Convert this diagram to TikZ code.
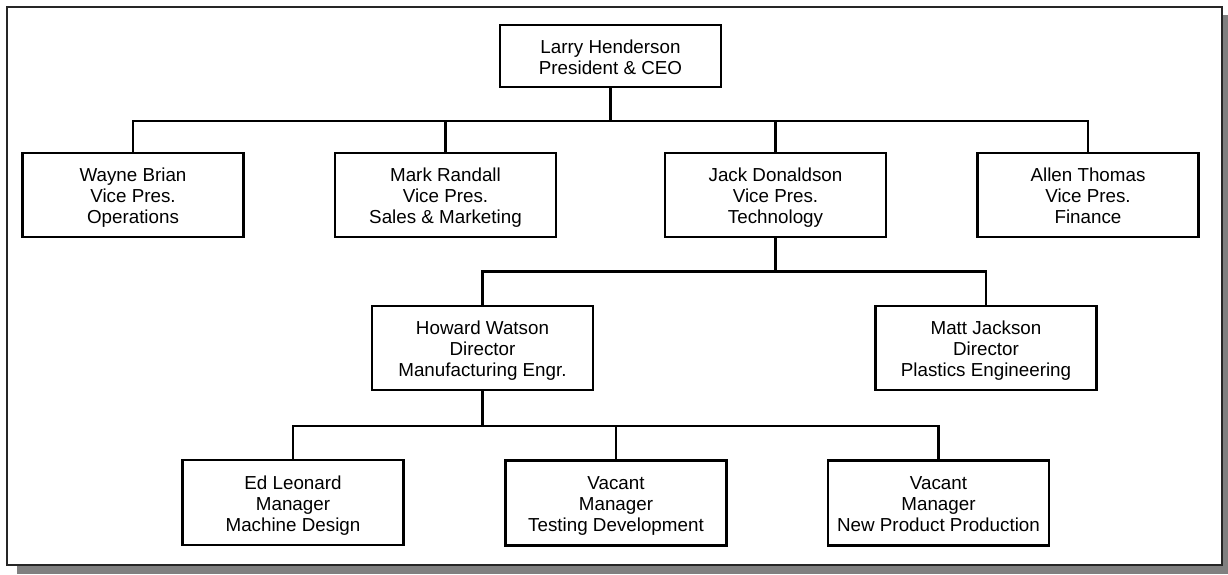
\documentclass[tikz,border=0pt]{standalone}
\usepackage{fontspec}
\setmainfont{Liberation Sans}
\newcommand{\topsp}{\rule{0pt}{21.5pt}}
\newcommand{\botsp}{\rule[-6.3pt]{0pt}{6.3pt}}
\begin{document}
\begin{tikzpicture}[x=1pt,y=-1pt,
  box/.style={draw=black, line width=2.1pt, fill=white, rectangle, minimum width=221pt, minimum height=84pt, align=center, inner sep=0pt, font=\fontsize{18.8}{21}\selectfont},
  conn/.style={draw=black, line width=2.1pt},
  frame/.style={draw=black!85, line width=1.3pt, fill=white},
  shadow/.style={fill=black!50, draw=none}]
\useasboundingbox (0,0) rectangle (1228,575);
% frame with shadow
\path[shadow] (17,15) rectangle (1228,574);
\path[frame] (7,7) rectangle (1222,565);
% nodes
\node[box, minimum height=62pt] (larry) at (610.5,56) {\topsp Larry Henderson\\President \& CEO\botsp};
\node[box] (wayne) at (133,195) {\topsp Wayne Brian\\Vice Pres.\\Operations\botsp};
\node[box] (mark) at (445.5,195) {\topsp Mark Randall\\Vice Pres.\\Sales \& Marketing\botsp};
\node[box] (jack) at (775.5,195) {\topsp Jack Donaldson\\Vice Pres.\\Technology\botsp};
\node[box] (allen) at (1088,195) {\topsp Allen Thomas\\Vice Pres.\\Finance\botsp};
\node[box] (howard) at (482.5,348) {\topsp Howard Watson\\Director\\Manufacturing Engr.\botsp};
\node[box] (matt) at (986,348) {\topsp Matt Jackson\\Director\\Plastics Engineering\botsp};
\node[box, minimum height=85pt] (ed) at (293,502.5) {\topsp Ed Leonard\\Manager\\Machine Design\botsp};
\node[box, minimum height=85pt] (td) at (616,503) {\topsp Vacant\\Manager\\Testing Development\botsp};
\node[box, minimum height=85pt] (npp) at (938.5,503) {\topsp Vacant\\Manager\\New Product Production\botsp};
% bus coordinates
\coordinate (b1) at (0,121);
\coordinate (b2) at (0,271.5);
\coordinate (b3) at (0,426);
% level 1 -> 2
\draw[conn] (larry.south) -- (larry.south |- b1);
\draw[conn] (wayne.north) -- (wayne.north |- b1) -- (allen.north |- b1) -- (allen.north);
\draw[conn] (mark.north) -- (mark.north |- b1);
\draw[conn] (jack.north) -- (jack.north |- b1);
% level 2 -> 3
\draw[conn] (jack.south) -- (jack.south |- b2);
\draw[conn] (howard.north) -- (howard.north |- b2) -- (matt.north |- b2) -- (matt.north);
% level 3 -> 4
\draw[conn] (howard.south) -- (howard.south |- b3);
\draw[conn] (ed.north) -- (ed.north |- b3) -- (npp.north |- b3) -- (npp.north);
\draw[conn] (td.north) -- (td.north |- b3);
\end{tikzpicture}
\end{document}
